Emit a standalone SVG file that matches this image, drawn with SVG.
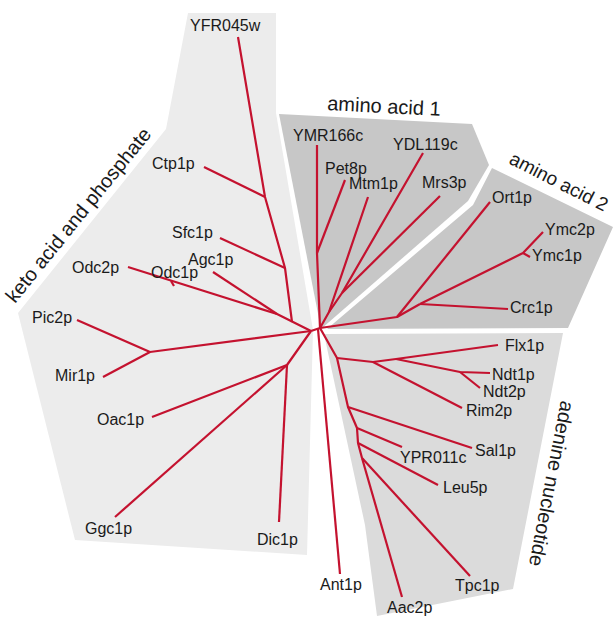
<svg xmlns="http://www.w3.org/2000/svg" width="614" height="627" viewBox="0 0 614 627">
  <style>
    .panel-light { fill: #ececec; }
    .panel-mid { fill: #dbdbdb; }
    .panel-dark { fill: #c7c7c7; }
    .edge { fill: none; stroke: #c4122f; stroke-width: 2.2; stroke-linejoin: round; stroke-linecap: butt; }
    .label { font-family: "Liberation Sans", Arial, sans-serif; font-size: 16px; fill: #1a1a1a; }
    .group-title { font-family: "Liberation Sans", Arial, sans-serif; font-size: 20px; fill: #1a1a1a; }
  </style>

  <!-- clade backgrounds -->
  <g id="panels">
    <polygon id="panel-keto" class="panel-light" points="188,13 276,13 276,113 313,330 307,555 75,540 18,313 166,129"/>
    <polygon id="panel-amino1" class="panel-dark" points="279,114 472,124 489,165 468,201 321,329"/>
    <polygon id="panel-amino2" class="panel-dark" points="492,168 613,227 568,328 327,329 473,205"/>
    <polygon id="panel-adenine" class="panel-mid" points="324,334 563,333 513,589 377,616 365,525"/>
  </g>

  <!-- clade titles -->
  <g id="titles">
    <text class="group-title" transform="translate(15,304) rotate(-51)">keto acid and phosphate</text>
    <text class="group-title" transform="translate(327,110) rotate(3)">amino acid 1</text>
    <text class="group-title" style="font-size:19px" transform="translate(508,163) rotate(27)">amino acid 2</text>
    <text class="group-title" transform="translate(561,400) rotate(101)">adenine nucleotide</text>
  </g>

  <!-- tree branches -->
  <g id="connectors">
    <!-- root link -->
    <path class="edge" d="M311,331 L320,328"/>
    <!-- keto acid and phosphate clade -->
    <path class="edge" d="M238,37 L265,197 L285,268 L292,322"/>
    <path class="edge" d="M204,167 L265,197"/>
    <path class="edge" d="M220,238 L285,268"/>
    <path class="edge" d="M128,267 L277,314 L311,331"/>
    <path class="edge" d="M171,281 L174,286"/>
    <path class="edge" d="M213,272 L277,314"/>
    <path class="edge" d="M77,320 L150,352 L311,331"/>
    <path class="edge" d="M103,377 L150,352"/>
    <path class="edge" d="M152,417 L287,365 L311,331"/>
    <path class="edge" d="M115,517 L287,365"/>
    <path class="edge" d="M279,522 L287,365"/>
    <!-- amino acid 1 clade -->
    <path class="edge" d="M317,145 L317,253 L320,328"/>
    <path class="edge" d="M345,180 L317,253"/>
    <path class="edge" d="M368,197 L329,312 L320,328"/>
    <path class="edge" d="M423,153 L342,293 L329,312"/>
    <path class="edge" d="M440,196 L342,293"/>
    <!-- amino acid 2 clade -->
    <path class="edge" d="M320,328 L397,317 L420,304"/>
    <path class="edge" d="M490,202 L397,317"/>
    <path class="edge" d="M543,232 L523,253 L420,304"/>
    <path class="edge" d="M523,253 L530,257"/>
    <path class="edge" d="M508,309 L420,304"/>
    <!-- adenine nucleotide clade -->
    <path class="edge" d="M320,328 L337,358 L348,407 L357,428 L358,443 L362,458"/>
    <path class="edge" d="M337,358 L373,362 L396,359 L498,345"/>
    <path class="edge" d="M373,362 L462,408"/>
    <path class="edge" d="M396,359 L460,372 L490,373"/>
    <path class="edge" d="M460,372 L480,388"/>
    <path class="edge" d="M348,407 L472,448"/>
    <path class="edge" d="M357,428 L402,447"/>
    <path class="edge" d="M358,443 L438,485"/>
    <path class="edge" d="M362,458 L470,576"/>
    <path class="edge" d="M362,458 L402,597"/>
    <path class="edge" d="M318,329 L340,574"/>
  </g>

  <!-- leaf labels -->
  <g id="YFR045w"><text class="label" x="190" y="31">YFR045w</text></g>
  <g id="Ctp1p"><text class="label" x="152" y="169">Ctp1p</text></g>
  <g id="Sfc1p"><text class="label" x="172" y="238">Sfc1p</text></g>
  <g id="Agc1p"><text class="label" x="188" y="265">Agc1p</text></g>
  <g id="Odc2p"><text class="label" x="72" y="273">Odc2p</text></g>
  <g id="Odc1p"><text class="label" x="151" y="278">Odc1p</text></g>
  <g id="Pic2p"><text class="label" x="32" y="323">Pic2p</text></g>
  <g id="Mir1p"><text class="label" x="55" y="381">Mir1p</text></g>
  <g id="Oac1p"><text class="label" x="97" y="425">Oac1p</text></g>
  <g id="Ggc1p"><text class="label" x="85" y="534">Ggc1p</text></g>
  <g id="Dic1p"><text class="label" x="257" y="545">Dic1p</text></g>
  <g id="YMR166c"><text class="label" x="293" y="141">YMR166c</text></g>
  <g id="YDL119c"><text class="label" x="393" y="150">YDL119c</text></g>
  <g id="Pet8p"><text class="label" x="325" y="174">Pet8p</text></g>
  <g id="Mtm1p"><text class="label" x="349" y="189">Mtm1p</text></g>
  <g id="Mrs3p"><text class="label" x="422" y="188">Mrs3p</text></g>
  <g id="Ort1p"><text class="label" x="492" y="203">Ort1p</text></g>
  <g id="Ymc2p"><text class="label" x="545" y="235">Ymc2p</text></g>
  <g id="Ymc1p"><text class="label" x="532" y="261">Ymc1p</text></g>
  <g id="Crc1p"><text class="label" x="510" y="313">Crc1p</text></g>
  <g id="Flx1p"><text class="label" x="505" y="351">Flx1p</text></g>
  <g id="Ndt1p"><text class="label" x="492" y="380">Ndt1p</text></g>
  <g id="Ndt2p"><text class="label" x="483" y="397">Ndt2p</text></g>
  <g id="Rim2p"><text class="label" x="466" y="416">Rim2p</text></g>
  <g id="Sal1p"><text class="label" x="475" y="456">Sal1p</text></g>
  <g id="YPR011c"><text class="label" x="400" y="463">YPR011c</text></g>
  <g id="Leu5p"><text class="label" x="443" y="493">Leu5p</text></g>
  <g id="Tpc1p"><text class="label" x="455" y="591">Tpc1p</text></g>
  <g id="Aac2p"><text class="label" x="387" y="613">Aac2p</text></g>
  <g id="Ant1p"><text class="label" x="320" y="590">Ant1p</text></g>
</svg>
